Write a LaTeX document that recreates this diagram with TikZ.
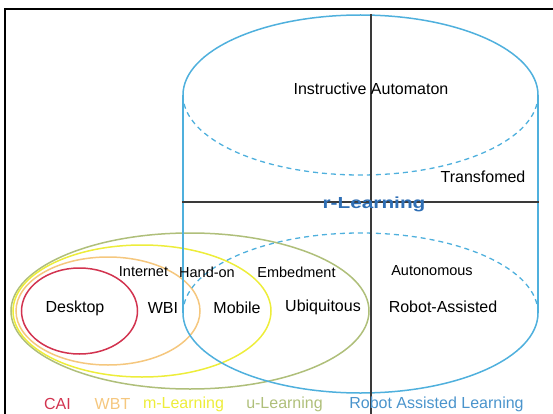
\documentclass[tikz,border=0pt]{standalone}
\usepackage{fontspec}
\setmainfont{Liberation Sans}
\usepackage{tikz}
\definecolor{cai}{HTML}{D2334F}
\definecolor{wbt}{HTML}{F5C77E}
\definecolor{mlearn}{HTML}{EDED3A}
\definecolor{ulearn}{HTML}{AFBF7A}
\definecolor{robot}{HTML}{4A94CC}
\definecolor{rlearn}{HTML}{2F6FB5}
\definecolor{cyl}{HTML}{4FB0DD}
\definecolor{axis}{HTML}{3A3A3A}
\tikzset{
  frame/.style={draw=black, line width=2pt},
  ax/.style={draw=axis, line width=1.1pt},
  cylside/.style={draw=cyl, line width=1.5pt},
  cylhid/.style={draw=cyl, line width=1.3pt, dash pattern=on 5pt off 4pt},
  ring/.style={line width=1.5pt},
  lab/.style={text=black, font=\fontsize{16}{18}\selectfont},
  sub/.style={text=black, font=\fontsize{14.5}{16}\selectfont},
  key/.style={font=\fontsize{16}{18}\selectfont}
}

\begin{document}
\begin{tikzpicture}[x=1pt, y=-1pt]
  \useasboundingbox (0,0) rectangle (553,414);
  % frame
  \draw[frame] (4.5,414) -- (4.5,9) -- (553,9);

  % nested learning ellipses
  \draw[ring, draw=ulearn] (190,311) ellipse [x radius=179pt, y radius=78pt];
  \draw[ring, draw=mlearn] (142,311) ellipse [x radius=129pt, y radius=66pt];
  \draw[ring, draw=wbt] (108,311) ellipse [x radius=92pt, y radius=54pt];
  \draw[ring, draw=cai] (79.5,311) ellipse [x radius=58pt, y radius=43pt];

  % cylinder
  \draw[cylside] (183,95) arc[start angle=180, end angle=0, x radius=177.5pt, y radius=80pt];
  \draw[cylhid] (183,95) arc[start angle=180, end angle=360, x radius=177.5pt, y radius=80pt];
  \draw[cylside] (183,95) -- (183,313);
  \draw[cylside] (538,95) -- (538,313);
  \draw[cylhid] (183,313) arc[start angle=180, end angle=0, x radius=177.5pt, y radius=80pt];
  \draw[cylside] (183,313) arc[start angle=180, end angle=360, x radius=177.5pt, y radius=80pt];

  % axes
  \draw[ax] (371,14) -- (371,414);
  \draw[ax] (182,202) -- (539,202);

  % labels
  \node[lab] (instr) at (371,89) {Instructive Automaton};
  \node[lab] (trans) at (483,177) {Transfomed};
  \node[text=rlearn, font=\bfseries\fontsize{16}{18}\selectfont] (rlearn) at (374,204) {\scalebox{1.3}[1]{r-Learning}};

  \node[sub] (internet) at (143.5,272) {Internet};
  \node[sub] (handon) at (207,272) {Hand-on};
  \node[sub] (embed) at (296.5,272) {Embedment};
  \node[sub] (auto) at (432,271) {Autonomous};

  \node[lab] (desk) at (75,308) {Desktop};
  \node[lab] (wbi) at (163,308) {WBI};
  \node[lab] (mobile) at (237,308) {Mobile};
  \node[lab] (ubiq) at (323,307) {Ubiquitous};
  \node[lab] (robot) at (443,307) {Robot-Assisted};

  % legend
  \node[key, text=cai] (kcai) at (57.5,404) {CAI};
  \node[key, text=wbt] (kwbt) at (112.5,404) {WBT};
  \node[key, text=mlearn] (kml) at (183.5,404) {m-Learning};
  \node[key, text=ulearn] (kul) at (284.5,404) {u-Learning};
  \node[key, text=robot] (krl) at (436.5,404) {Robot Assisted Learning};
\end{tikzpicture}
\end{document}
